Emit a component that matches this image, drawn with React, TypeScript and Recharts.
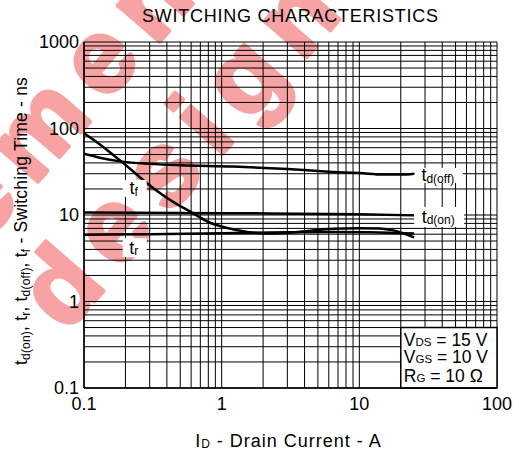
import React from 'react';
import {
  LineChart, Line, XAxis, YAxis, CartesianGrid, ReferenceArea, ReferenceDot,
} from 'recharts';

// ---------- data ----------
const xGrid = [0.1, 0.2, 0.3, 0.4, 0.5, 0.6, 0.7, 0.8, 0.9, 1, 2, 3, 4, 5, 6, 7, 8, 9, 10, 20, 30, 40, 50, 60, 70, 80, 90, 100];
const yGrid = [0.1, 0.2, 0.3, 0.4, 0.5, 0.6, 0.7, 0.8, 0.9, 1, 2, 3, 4, 5, 6, 7, 8, 9, 10, 20, 30, 40, 50, 60, 70, 80, 90, 100, 200, 300, 400, 500, 600, 700, 800, 900, 1000];
const xTickLabels: Record<string, string> = { '0.1': '0.1', '1': '1', '10': '10', '100': '100' };
const yTickLabels: Record<string, string> = { '0.1': '0.1', '1': '1', '10': '10', '100': '100', '1000': '1000' };

const currentTdOff = [0.1, 0.13, 0.19, 0.3, 0.5, 1.2, 3, 6, 10, 15, 20, 25];
const tdOff = [51, 46, 41.4, 39, 37.5, 36.3, 34, 31.7, 30.5, 29.3, 29.3, 30];

const currentTdOn = [0.1, 1, 10, 25];
const tdOn = [10.7, 10.5, 10.2, 9.9];

const currentTf = [0.1, 0.12, 0.15, 0.2, 0.25, 0.33, 0.45, 0.6, 0.8, 1.1, 1.5, 2.1, 3.7, 6, 10, 14, 18, 25];
const tf = [88, 72, 55, 38, 28, 19.6, 14, 10.8, 8.3, 7.06, 6.4, 6.1, 6.4, 6.9, 7.05, 7.0, 6.6, 5.5];

const currentTr = [0.1, 0.3, 1, 3, 6, 12, 18, 25];
const tr = [5.9, 6.0, 6.15, 6.3, 6.35, 6.3, 6.2, 6.1];

const curveLabelNames = ['tf', 'tr', 'td(off)', 'td(on)'];
const curveLabelSubs = ['f', 'r', 'd(off)', 'd(on)'];
const curveLabelX = [0.2335, 0.2335, 37.8, 38];
const curveLabelY = [20.3, 4.2, 28.7, 9.5];

const conditions = [
  { main: 'V', sub: 'DS', rest: ' = 15 V' },
  { main: 'V', sub: 'GS', rest: ' = 10 V' },
  { main: 'R', sub: 'G', rest: ' = 10 Ω' },
];

const watermarkWords = ['element', 'design'];

const zip = (xs: number[], ys: number[]) => xs.map((x, i) => ({ x, y: ys[i] }));

const FONT = '"Liberation Sans", Arial, Helvetica, sans-serif';

const boxSizes: Record<string, { w: number; h: number }> = {
  tf: { w: 24, h: 17 },
  tr: { w: 24, h: 19 },
  'td(off)': { w: 48, h: 15 },
  'td(on)': { w: 50, h: 20 },
};

const makeLabelShape = (name: string, sub: string) => (props: any) => {
  const { cx, cy } = props;
  const s = boxSizes[name];
  return (
    <g>
      <rect x={cx - s.w / 2} y={cy - s.h / 2} width={s.w} height={s.h} fill="#fff" />
      <text x={cx - 1} y={cy + 6} textAnchor="middle" fontFamily={FONT} fontSize={18} fill="#000">
        t<tspan fontSize={12} dy={1.5}>{sub}</tspan>
      </text>
    </g>
  );
};

const conditionsShape = (props: any) => {
  const { cx, cy } = props;
  const base = [18.4, 35.7, 54.4];
  return (
    <g>
      {conditions.map((c, i) => (
        <text key={i} x={cx + 3} y={cy + base[i]} fontFamily={FONT} fontSize={17.5} fill="#000">
          {c.main}
          <tspan fontSize={11.5}>{c.sub}</tspan>
          <tspan>{c.rest}</tspan>
        </text>
      ))}
    </g>
  );
};

const wmStarts = [[-96, 336], [66, 334]];

export default function App() {
  return (
    <div style={{ position: 'absolute', left: 0, top: 0, width: 519, height: 455, background: '#fff', overflow: 'hidden' }}>
      {/* watermark */}
      <svg width={519} height={455} style={{ position: 'absolute', left: 0, top: 0 }}>
        {watermarkWords.map((w, i) => (
          <text
            key={w}
            x={wmStarts[i][0]}
            y={wmStarts[i][1]}
            transform={`rotate(-49 ${wmStarts[i][0]} ${wmStarts[i][1]})`}
            fontFamily={FONT}
            fontWeight={700}
            fontSize={105}
            letterSpacing={17}
            fill="#f7a3a3"
            stroke="#f7a3a3"
            strokeWidth={4}
            strokeLinejoin="round"
          >
            {w}
          </text>
        ))}
      </svg>
      <div style={{ position: 'absolute', left: 0, top: 0 }}>
        <LineChart width={519} height={455} margin={{ top: 42, right: 22, bottom: 37, left: 0 }}>
          <CartesianGrid stroke="#000" strokeWidth={1} />
          <XAxis
            type="number"
            dataKey="x"
            scale="log"
            domain={[0.1, 100]}
            ticks={xGrid}
            interval={0}
            allowDataOverflow
            height={30}
            tickLine={false}
            tickSize={0}
            tickMargin={9}
            axisLine={{ stroke: '#000', strokeWidth: 1.5 }}
            tickFormatter={(v: number) => xTickLabels[String(v)] ?? ''}
            tick={{ fill: '#000', fontSize: 18, fontFamily: FONT }}
          />
          <YAxis
            type="number"
            dataKey="y"
            scale="log"
            domain={[0.1, 1000]}
            ticks={yGrid}
            interval={0}
            allowDataOverflow
            width={84}
            tickLine={false}
            tickSize={0}
            tickMargin={5}
            axisLine={{ stroke: '#000', strokeWidth: 1.5 }}
            tickFormatter={(v: number) => yTickLabels[String(v)] ?? ''}
            tick={{ fill: '#000', fontSize: 18, fontFamily: FONT }}
          />
          <Line data={zip(currentTdOff, tdOff)} dataKey="y" type="monotone" stroke="#000" strokeWidth={2.5} dot={false} isAnimationActive={false} />
          <Line data={zip(currentTdOn, tdOn)} dataKey="y" type="monotone" stroke="#000" strokeWidth={2.5} dot={false} isAnimationActive={false} />
          <Line data={zip(currentTf, tf)} dataKey="y" type="monotone" stroke="#000" strokeWidth={2.5} dot={false} isAnimationActive={false} />
          <Line data={zip(currentTr, tr)} dataKey="y" type="monotone" stroke="#000" strokeWidth={2.5} dot={false} isAnimationActive={false} />
          <ReferenceArea x1={20} x2={100} y1={0.1} y2={0.5} fill="#fff" fillOpacity={1} stroke="#000" strokeWidth={1.5} />
          <ReferenceDot x={20} y={0.5} r={0} shape={conditionsShape} />
          {curveLabelNames.map((n, i) => (
            <ReferenceDot key={n} x={curveLabelX[i]} y={curveLabelY[i]} r={0} shape={makeLabelShape(n, curveLabelSubs[i])} />
          ))}
        </LineChart>
      </div>
      {/* titles */}
      <svg width={519} height={455} style={{ position: 'absolute', left: 0, top: 0, pointerEvents: 'none' }}>
        <text x={290.5} y={21.5} textAnchor="middle" fontFamily={FONT} fontSize={18} letterSpacing={0.75} fill="#000">SWITCHING CHARACTERISTICS</text>
        <text x={288.5} y={447} textAnchor="middle" fontFamily={FONT} fontSize={18} letterSpacing={1} fill="#000">
          I<tspan fontSize={12} dy={1}>D</tspan><tspan dy={-1}> - Drain Current - A</tspan>
        </text>
        <text x={27} y={221} textAnchor="middle" transform="rotate(-90 27 221)" fontFamily={FONT} fontSize={17.5} letterSpacing={0.2} fill="#000">
          t<tspan fontSize={12} dy={3}>d(on)</tspan><tspan dy={-3}>, t</tspan><tspan fontSize={12} dy={3}>r</tspan><tspan dy={-3}>, t</tspan><tspan fontSize={12} dy={3}>d(off)</tspan><tspan dy={-3}>, t</tspan><tspan fontSize={12} dy={3}>f</tspan><tspan dy={-3}> - Switching Time - ns</tspan>
        </text>
      </svg>
    </div>
  );
}
